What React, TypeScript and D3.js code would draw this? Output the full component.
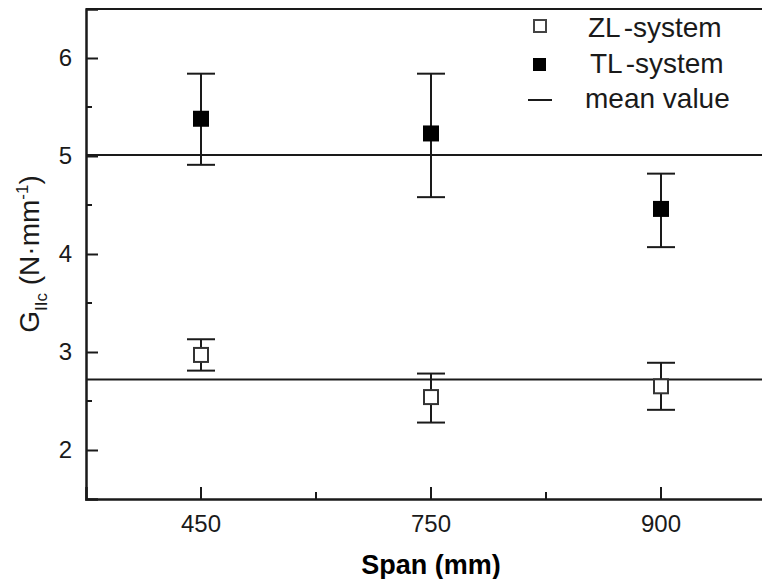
import React, { useEffect, useRef } from 'react';
import * as d3 from 'd3';

const spans = ['450', '750', '900'];
const zlValues = [2.97, 2.54, 2.65];
const zlLow = [2.81, 2.28, 2.41];
const zlHigh = [3.13, 2.78, 2.89];
const tlValues = [5.38, 5.23, 4.46];
const tlLow = [4.91, 4.58, 4.07];
const tlHigh = [5.84, 5.84, 4.82];
const meanValues = [2.72, 5.01];
const yTicks = [2, 3, 4, 5, 6];
const yMinorTicks = [2.5, 3.5, 4.5, 5.5];

const FONT = 'Liberation Sans, Arial, sans-serif';
const W = 762;
const H = 579;
const left = 86;
const right = 776;
const top = 9;
const bottom = 499;

const App = () => {
  const ref = useRef<SVGSVGElement>(null);

  useEffect(() => {
    const svg = d3.select(ref.current);
    svg.selectAll('*').remove();

    const x = d3.scaleBand().domain(spans).range([left, right]).padding(0);
    const y = d3.scaleLinear().domain([1.5, 6.5]).range([bottom, top]);
    const cx = (s: string) => (x(s) as number) + x.bandwidth() / 2;
    const ink = '#1a1a1a';

    // mean lines
    svg.selectAll('.mean')
      .data(meanValues)
      .enter()
      .append('line')
      .attr('x1', left)
      .attr('x2', right)
      .attr('y1', d => y(d))
      .attr('y2', d => y(d))
      .attr('stroke', ink)
      .attr('stroke-width', 2);

    // top frame line
    svg.append('line')
      .attr('x1', left).attr('x2', right)
      .attr('y1', top).attr('y2', top)
      .attr('stroke', ink).attr('stroke-width', 2);

    // left axis
    const yAxis = svg.append('g').attr('transform', `translate(${left},0)`);
    yAxis.call(d3.axisLeft(y).tickValues(yTicks).tickSize(-12).tickPadding(14).tickFormat(d3.format('d')));
    yAxis.selectAll('.minor')
      .data(yMinorTicks)
      .enter()
      .append('line')
      .attr('x1', 0).attr('x2', 6)
      .attr('y1', d => y(d)).attr('y2', d => y(d))
      .attr('stroke', ink).attr('stroke-width', 2);

    // bottom axis
    const xAxis = svg.append('g').attr('transform', `translate(0,${bottom})`);
    xAxis.call(d3.axisBottom(x).tickSize(-12).tickPadding(16));
    xAxis.selectAll('.minor')
      .data(spans.slice(1))
      .enter()
      .append('line')
      .attr('x1', d => x(d) as number).attr('x2', d => x(d) as number)
      .attr('y1', 0).attr('y2', -7)
      .attr('stroke', ink).attr('stroke-width', 2);

    [yAxis, xAxis].forEach(g => {
      g.select('.domain').attr('stroke', ink).attr('stroke-width', 2.5);
      g.selectAll('.tick line').attr('stroke', ink).attr('stroke-width', 2);
      g.selectAll('.tick text')
        .attr('font-family', FONT)
        .attr('font-size', 24)
        .attr('fill', ink);
    });

    // error bars + markers
    const series = [
      { vals: zlValues, low: zlLow, high: zlHigh, fill: '#fff' },
      { vals: tlValues, low: tlLow, high: tlHigh, fill: '#000' },
    ];
    const cap = 14;
    const size = 14;
    series.forEach(s => {
      const g = svg.append('g');
      spans.forEach((sp, i) => {
        const px = cx(sp);
        g.append('line')
          .attr('x1', px).attr('x2', px)
          .attr('y1', y(s.low[i])).attr('y2', y(s.high[i]))
          .attr('stroke', ink).attr('stroke-width', 2);
        [s.low[i], s.high[i]].forEach(v => {
          g.append('line')
            .attr('x1', px - cap).attr('x2', px + cap)
            .attr('y1', y(v)).attr('y2', y(v))
            .attr('stroke', ink).attr('stroke-width', 2);
        });
        g.append('rect')
          .attr('x', px - size / 2).attr('y', y(s.vals[i]) - size / 2)
          .attr('width', size).attr('height', size)
          .attr('fill', s.fill)
          .attr('stroke', s.fill === '#fff' ? '#333' : '#000')
          .attr('stroke-width', 2);
      });
    });

    // legend
    const lg = svg.append('g').attr('font-family', FONT).attr('font-size', 28).attr('fill', ink);
    lg.append('rect').attr('x', 534).attr('y', 20).attr('width', 12).attr('height', 12)
      .attr('fill', '#fff').attr('stroke', '#444').attr('stroke-width', 2);
    lg.append('rect').attr('x', 533).attr('y', 58).attr('width', 13).attr('height', 13)
      .attr('fill', '#000');
    lg.append('line').attr('x1', 528).attr('x2', 552).attr('y1', 100).attr('y2', 100)
      .attr('stroke', ink).attr('stroke-width', 2);
    const zl = lg.append('text').attr('x', 588).attr('y', 37);
    zl.append('tspan').text('ZL');
    zl.append('tspan').attr('dx', 3).text('-system');
    const tl = lg.append('text').attr('x', 590).attr('y', 73);
    tl.append('tspan').text('TL');
    tl.append('tspan').attr('dx', 3).text('-system');
    lg.append('text').attr('x', 585).attr('y', 108).text('mean value');

    // axis titles
    svg.append('text')
      .attr('x', (left + right) / 2).attr('y', 574)
      .attr('text-anchor', 'middle')
      .attr('font-family', FONT).attr('font-size', 27).attr('font-weight', 'bold')
      .attr('fill', '#000')
      .text('Span (mm)');

    const yl = svg.append('text')
      .attr('transform', `translate(39,${(top + bottom) / 2}) rotate(-90)`)
      .attr('text-anchor', 'middle')
      .attr('font-family', FONT).attr('font-size', 28).attr('fill', ink);
    yl.append('tspan').text('G');
    yl.append('tspan').attr('dy', 8).attr('font-size', 17).text('IIc');
    yl.append('tspan').attr('dy', -8).text(' (N·mm');
    yl.append('tspan').attr('dy', -11).attr('font-size', 17).text('-1');
    yl.append('tspan').attr('dy', 11).text(')');
  }, []);

  return (
    <svg ref={ref} width={W} height={H}
      style={{ position: 'absolute', left: 0, top: 0, background: '#fff' }} />
  );
};

export default App;
